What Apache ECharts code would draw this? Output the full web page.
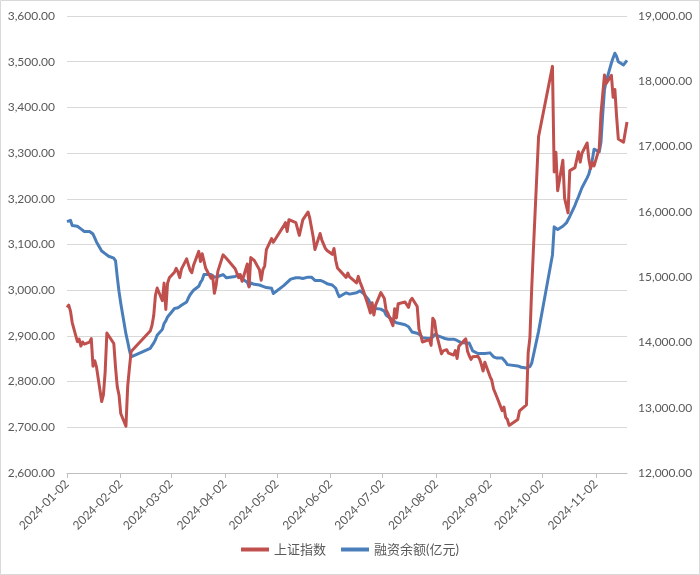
<!DOCTYPE html>
<html>
<head>
<meta charset="utf-8">
<script src="https://cdn.jsdelivr.net/npm/echarts@6/dist/echarts.min.js"></script>
<style>
html,body{margin:0;padding:0;background:#fff;}
#chart{width:700px;height:575px;}
</style>
</head>
<body>
<div id="chart"></div>
<script>
// Trading days (2024), by month
const tradingDays = [
  ['01', [2,3,4,5,8,9,10,11,12,15,16,17,18,19,22,23,24,25,26,29,30,31]],
  ['02', [1,2,5,6,7,8,19,20,21,22,23,26,27,28,29]],
  ['03', [1,4,5,6,7,8,11,12,13,14,15,18,19,20,21,22,25,26,27,28,29]],
  ['04', [1,2,3,8,9,10,11,12,15,16,17,18,19,22,23,24,25,26,29,30]],
  ['05', [6,7,8,9,10,13,14,15,16,17,20,21,22,23,24,27,28,29,30,31]],
  ['06', [3,4,5,6,7,11,12,13,14,17,18,19,20,21,24,25,26,27,28]],
  ['07', [1,2,3,4,5,8,9,10,11,12,15,16,17,18,19,22,23,24,25,26,29,30,31]],
  ['08', [1,2,5,6,7,8,9,12,13,14,15,16,19,20,21,22,23,26,27,28,29,30]],
  ['09', [2,3,4,5,6,9,10,11,12,13,18,19,20,23,24,25,26,27,30]],
  ['10', [8,9,10,11,14,15,16,17,18,21,22,23,24,25,28,29,30,31]],
  ['11', [1,4,5,6,7,8,11,12,13,14,15,18,19,20]]
];

// 上证指数
const shIndex = [
  2962.28,2967.25,2954.35,2929.18,2887.54,2893.25,2877.70,2886.65,2881.98,2886.29,2893.99,2833.62,2845.78,2832.28,2756.34,2770.74,2820.77,2906.11,2910.22,2883.36,2830.53,2788.55,
  2770.74,2730.15,2702.19,2789.49,2829.70,2865.90,2910.54,2922.73,2944.02,2988.36,3004.88,2977.02,3015.48,2957.85,3015.17,
  3027.02,3039.31,3047.79,3039.93,3027.40,3046.02,3068.46,3055.94,3043.83,3038.23,3054.64,3084.93,3062.76,3079.69,3077.11,3048.03,3026.31,3031.48,2993.14,3010.66,3041.17,
  3077.38,3074.96,3069.30,3047.05,3048.54,3027.34,3034.25,3019.47,3057.38,3007.07,3071.38,3074.22,3065.26,3044.60,3021.98,3044.82,3052.90,3088.64,3113.04,3104.82,
  3140.72,3147.74,3128.48,3154.32,3154.55,3148.02,3145.77,3119.90,3122.40,3154.03,3171.15,3157.97,3158.54,3116.39,3088.87,3124.04,3109.57,3111.02,3091.68,3086.81,
  3078.49,3091.20,3065.40,3048.79,3051.28,3028.05,3037.47,3028.92,3032.63,3015.89,3030.25,3018.05,3008.35,2998.14,2963.10,2950.00,2972.53,2945.85,2967.40,
  2994.73,2997.01,2982.38,2957.57,2949.93,2922.45,2959.37,2939.36,2970.39,2971.30,2974.01,2976.30,2962.59,2977.13,2982.31,2964.22,2915.37,2901.95,2886.74,2890.90,2891.85,2879.30,2938.75,
  2932.39,2905.34,2860.70,2867.28,2869.90,2869.83,2862.19,2858.20,2867.95,2850.65,2877.36,2879.43,2893.67,2866.66,2856.58,2848.77,2854.37,2855.52,2848.73,2837.43,2823.11,2842.21,
  2811.04,2802.98,2784.28,2788.31,2765.81,2736.49,2744.19,2721.80,2717.12,2704.09,2717.28,2736.02,2736.81,2748.92,2863.13,2896.31,3000.95,3087.53,3336.50,
  3489.78,3258.86,3301.93,3217.74,3284.32,3201.29,3202.95,3169.38,3261.56,3268.11,3285.87,3302.80,3280.26,3299.70,3322.20,3286.41,3266.24,3279.82,
  3272.01,3310.21,3386.99,3383.81,3470.66,3452.30,3470.07,3421.97,3439.28,3379.84,3330.73,3323.85,3346.01,3367.99
];

// 融资余额(亿元)
const marginBalance = [
  15850,15880,15870,15790,15780,15760,15740,15720,15700,15700,15690,15660,15600,15540,15400,15370,15360,15370,15320,15290,15250,15000,
  14780,14600,14130,14010,13880,13780,13910,13950,13990,14040,14110,14200,14290,14330,14390,
  14420,14520,14540,14530,14540,14570,14620,14680,14730,14760,14800,14860,14920,14960,15040,15060,15040,15020,15000,15000,15010,
  15040,15050,14990,15010,15040,15040,14990,14960,14920,14860,14910,14890,14890,14880,14880,14860,14850,14840,14830,14750,
  14870,14900,14920,14950,14970,14990,14980,14990,14990,14980,15000,14990,15000,15020,14950,14950,14940,14930,14920,14900,
  14880,14860,14830,14760,14700,14760,14750,14740,14730,14760,14780,14790,14800,14750,14650,14590,14540,14510,14520,
  14510,14500,14480,14420,14390,14340,14320,14300,14300,14290,14270,14250,14240,14200,14160,14140,14130,14110,14070,14060,14060,14070,14080,
  14120,14140,14080,14070,14060,14060,14050,14050,14040,14030,14010,14000,13990,13980,13990,13960,13870,13830,13820,13830,13830,13830,
  13840,13820,13780,13760,13760,13760,13740,13700,13660,13650,13640,13630,13620,13610,13610,13630,13680,13800,14170,
  15340,15770,15760,15730,15780,15810,15830,15850,15930,16100,16170,16230,16300,16370,16520,16580,16680,16800,
  16960,16920,17070,17500,17870,18000,18280,18360,18430,18380,18300,18250,18250,18320
];

// X-axis tick labels
const xTickLabels = ['2024-01-02','2024-02-02','2024-03-02','2024-04-02','2024-05-02','2024-06-02',
  '2024-07-02','2024-08-02','2024-09-02','2024-10-02','2024-11-02'];
const xMin = '2024-01-02';
const xMax = '2024-11-20';

const seriesNames = ['上证指数', '融资余额(亿元)'];

const dates = [];
tradingDays.forEach(([m, days]) => days.forEach(d => dates.push('2024-' + m + '-' + String(d).padStart(2, '0'))));

function ts(s) { const p = s.split('-').map(Number); return new Date(p[0], p[1] - 1, p[2]).getTime(); }
function fmtDate(v) {
  const d = new Date(v);
  return d.getFullYear() + '-' + String(d.getMonth() + 1).padStart(2, '0') + '-' + String(d.getDate()).padStart(2, '0');
}
function fmtNum(v) { return v.toLocaleString('en-US', { minimumFractionDigits: 2, maximumFractionDigits: 2 }); }

const tickTs = xTickLabels.map(ts);
const FONT = 'Lato, "Liberation Sans", "Noto Sans CJK SC", sans-serif';
const TXT = '#595959';

const chart = echarts.init(document.getElementById('chart'), null, { renderer: 'canvas' });
chart.setOption({
  animation: false,
  backgroundColor: '#ffffff',
  textStyle: { fontFamily: FONT },
  graphic: [{
    type: 'rect', silent: true, z: -1,
    shape: { x: 0.5, y: 0.5, width: 699, height: 574 },
    style: { fill: 'none', stroke: '#d9d9d9', lineWidth: 1 }
  }],
  grid: { left: 67, right: 73, top: 16, bottom: 102, containLabel: false },
  legend: {
    data: seriesNames,
    bottom: 14,
    left: 'center',
    icon: 'rect',
    itemWidth: 28,
    itemHeight: 4,
    itemGap: 15,
    textStyle: { color: TXT, fontSize: 13, fontFamily: FONT }
  },
  xAxis: {
    type: 'value',
    min: ts(xMin),
    max: ts(xMax),
    scale: true,
    splitLine: { show: false },
    axisLine: { show: true, lineStyle: { color: '#bfbfbf', width: 1 } },
    axisTick: { show: true, length: 5, lineStyle: { color: '#bfbfbf' }, customValues: tickTs },
    axisLabel: {
      customValues: tickTs,
      rotate: 45,
      margin: 9,
      color: TXT,
      fontSize: 12,
      fontFamily: FONT,
      formatter: v => fmtDate(v),
      hideOverlap: false
    }
  },
  yAxis: [{
    type: 'value',
    min: 2600, max: 3600, interval: 100,
    axisLine: { show: false },
    axisTick: { show: false },
    splitLine: { show: true, lineStyle: { color: '#d9d9d9', width: 1 } },
    axisLabel: { color: TXT, fontSize: 12, margin: 12, fontFamily: FONT, formatter: v => fmtNum(v) }
  }, {
    type: 'value',
    min: 12000, max: 19000, interval: 1000,
    axisLine: { show: false },
    axisTick: { show: false },
    splitLine: { show: false },
    axisLabel: { color: TXT, fontSize: 12, margin: 11, fontFamily: FONT, formatter: v => fmtNum(v) }
  }],
  series: [{
    name: seriesNames[0],
    type: 'line',
    yAxisIndex: 0,
    showSymbol: false,
    symbol: 'none',
    lineStyle: { color: '#C0504D', width: 3, join: 'round' },
    itemStyle: { color: '#C0504D' },
    data: dates.map((d, i) => [ts(d), shIndex[i]]),
    z: 3
  }, {
    name: seriesNames[1],
    type: 'line',
    yAxisIndex: 1,
    showSymbol: false,
    symbol: 'none',
    lineStyle: { color: '#4A7EBB', width: 3, join: 'round' },
    itemStyle: { color: '#4A7EBB' },
    data: dates.map((d, i) => [ts(d), marginBalance[i]]),
    z: 2
  }]
});
</script>
</body>
</html>
